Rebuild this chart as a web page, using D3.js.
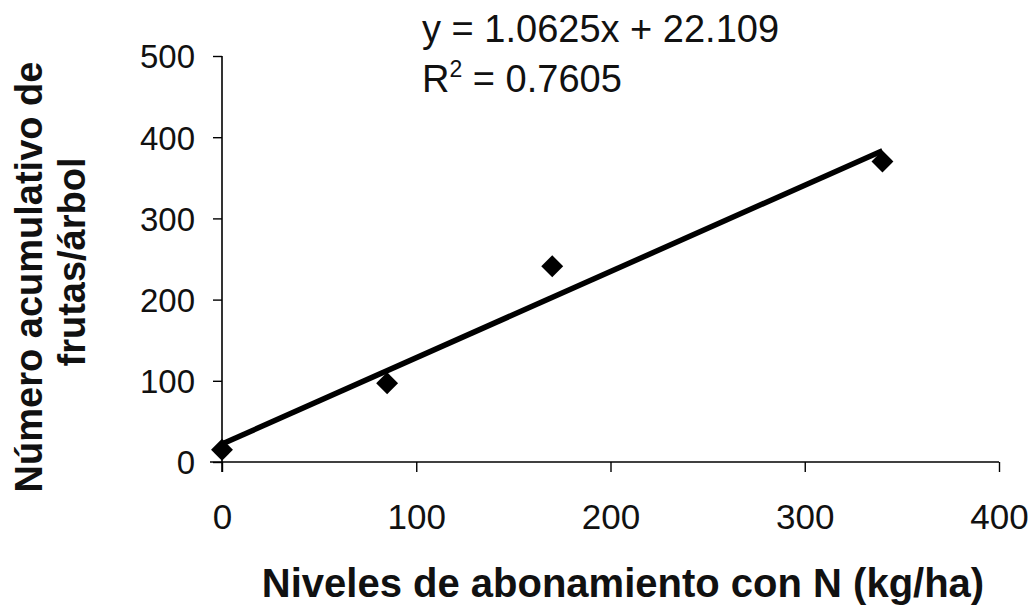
<!DOCTYPE html>
<html>
<head>
<meta charset="utf-8">
<script src="https://cdn.jsdelivr.net/npm/d3@7"></script>
<style>
  body { margin: 0; background: #fff; }
  svg { display: block; font-family: Arial, "Liberation Sans", sans-serif; }
</style>
</head>
<body>
<svg width="1035" height="606"></svg>
<script>
// data
var nitrogen = [0, 85, 170, 340];          // kg/ha
var fruits = [15, 97, 241, 370];           // cumulative fruits per tree
var xTicks = [0, 100, 200, 300, 400];
var yTicks = [0, 100, 200, 300, 400, 500];
var trendCoef = [1.0625, 22.109];          // slope, intercept
var eqLines = ["y = 1.0625x + 22.109", "R2 = 0.7605"];

var svg = d3.select("svg");

var x = d3.scaleLinear().domain([0, 400]).range([222, 999]);
var y = d3.scaleLinear().domain([0, 500]).range([462, 56]);

// y axis
var yAxis = svg.append("g")
    .attr("transform", "translate(222,0)")
    .call(d3.axisLeft(y).tickValues(yTicks).tickSize(9).tickPadding(18).tickFormat(d3.format("d")));
yAxis.select(".domain").attr("d", "M0," + y(500) + "V" + (y(0) + 10)).attr("stroke-width", 1.6);
yAxis.selectAll(".tick line").attr("stroke-width", 1.4);
yAxis.selectAll("text").attr("font-size", 33).attr("fill", "#111").attr("dy", "0.36em");

// x axis
var xAxis = svg.append("g")
    .attr("transform", "translate(0,462)")
    .call(d3.axisBottom(x).tickValues(xTicks).tickSize(10).tickPadding(32).tickFormat(d3.format("d")));
xAxis.select(".domain").attr("d", "M" + (x(0) - 12) + ",0H" + x(400)).attr("stroke-width", 1.6);
xAxis.selectAll(".tick line").attr("stroke-width", 1.4);
xAxis.selectAll("text").attr("font-size", 35).attr("fill", "#111");

// trend line
var trend = d3.line()
    .x(function (d) { return x(d); })
    .y(function (d) { return y(trendCoef[0] * d + trendCoef[1]); });
svg.append("path")
    .datum([d3.min(nitrogen), d3.max(nitrogen)])
    .attr("d", trend)
    .attr("fill", "none")
    .attr("stroke", "#000")
    .attr("stroke-width", 5.5);

// points
var diamond = d3.symbol().type(d3.symbolSquare).size(240);
svg.selectAll(".pt")
    .data(nitrogen)
    .enter().append("path")
    .attr("class", "pt")
    .attr("d", diamond)
    .attr("transform", function (d, i) { return "translate(" + x(d) + "," + y(fruits[i]) + ") rotate(45)"; })
    .attr("fill", "#000");

// equation
var eq = svg.append("g").attr("font-size", 38).attr("fill", "#111");
eq.append("text").attr("x", 422).attr("y", 42).text(eqLines[0]);
var r2 = eq.append("text").attr("x", 422).attr("y", 92);
r2.append("tspan").text("R");
r2.append("tspan").attr("font-size", 23).attr("dy", -15).text("2");
r2.append("tspan").attr("dy", 15).text(eqLines[1].slice(2));

// axis titles
svg.append("text")
    .attr("x", 623)
    .attr("y", 597)
    .attr("text-anchor", "middle")
    .attr("font-size", 40)
    .attr("font-weight", "bold")
    .attr("fill", "#111")
    .text("Niveles de abonamiento con N (kg/ha)");

var yTitle = svg.append("text")
    .attr("transform", "translate(42,277) rotate(-90)")
    .attr("text-anchor", "middle")
    .attr("font-size", 38)
    .attr("font-weight", "bold")
    .attr("fill", "#111");
yTitle.append("tspan").attr("x", 0).attr("dy", 0).text("Número acumulativo de");
yTitle.append("tspan").attr("x", 15).attr("dy", 43).text("frutas/árbol");
</script>
</body>
</html>
